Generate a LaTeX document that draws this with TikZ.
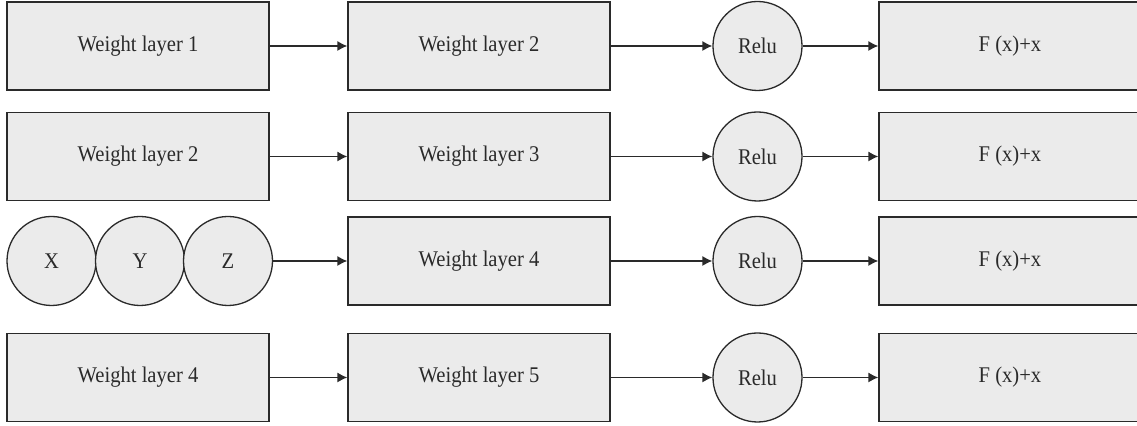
\documentclass[tikz,border=0pt]{standalone}
\usepackage{fontspec}
\setmainfont{Liberation Serif}
\newfontfamily\lblfont[FakeStretch=0.92]{Liberation Serif}
\usetikzlibrary{arrows.meta}
\definecolor{boxfill}{HTML}{EBEBEB}
\definecolor{edge}{HTML}{2A2A2A}
\begin{document}
\begin{tikzpicture}[x=0.5pt,y=-0.5pt,
  lbl/.style={font=\lblfont\fontsize{11.2}{13}\selectfont, text=edge},
  box/.style={lbl, draw=edge, fill=boxfill, line width=0.65pt, minimum width=131pt, minimum height=44pt, inner sep=0pt},
  circ/.style={lbl, circle, draw=edge, fill=boxfill, line width=0.65pt, minimum size=44.5pt, inner sep=0pt},
  arr/.style={draw=edge, line width=0.65pt, -{Latex[length=5pt,width=5pt]}}]
\path[use as bounding box, clip] (0,0) rectangle (1137,426);
\fill[white] (0,0) rectangle (1137,426);
% row 1
\node[box] (a1) at (138,46) {Weight layer 1};
\node[box] (b1) at (479,46) {Weight layer 2};
\node[circ] (r1) at (757.5,46) {Relu};
\node[box] (f1) at (1010,46) {F (x)+x};
% row 2
\node[box] (a2) at (138,156.5) {Weight layer 2};
\node[box] (b2) at (479,156.5) {Weight layer 3};
\node[circ] (r2) at (757.5,156.5) {Relu};
\node[box] (f2) at (1010,156.5) {F (x)+x};
% row 3
\node[circ] (x3) at (51.5,261) {X};
\node[circ] (y3) at (140,261) {Y};
\node[circ] (z3) at (228,261) {Z};
\node[box] (b3) at (479,261) {Weight layer 4};
\node[circ] (r3) at (757.5,261) {Relu};
\node[box] (f3) at (1010,261) {F (x)+x};
% row 4
\node[box] (a4) at (138,377.5) {Weight layer 4};
\node[box] (b4) at (479,377.5) {Weight layer 5};
\node[circ] (r4) at (757.5,377.5) {Relu};
\node[box] (f4) at (1010,377.5) {F (x)+x};
% connectors
\draw[arr] (a1) -- (b1);
\draw[arr] (b1) -- (r1);
\draw[arr] (r1) -- (f1);
\draw[arr] (a2) -- (b2);
\draw[arr] (b2) -- (r2);
\draw[arr] (r2) -- (f2);
\draw[arr] (z3) -- (b3);
\draw[arr] (b3) -- (r3);
\draw[arr] (r3) -- (f3);
\draw[arr] (a4) -- (b4);
\draw[arr] (b4) -- (r4);
\draw[arr] (r4) -- (f4);
\end{tikzpicture}
\end{document}
